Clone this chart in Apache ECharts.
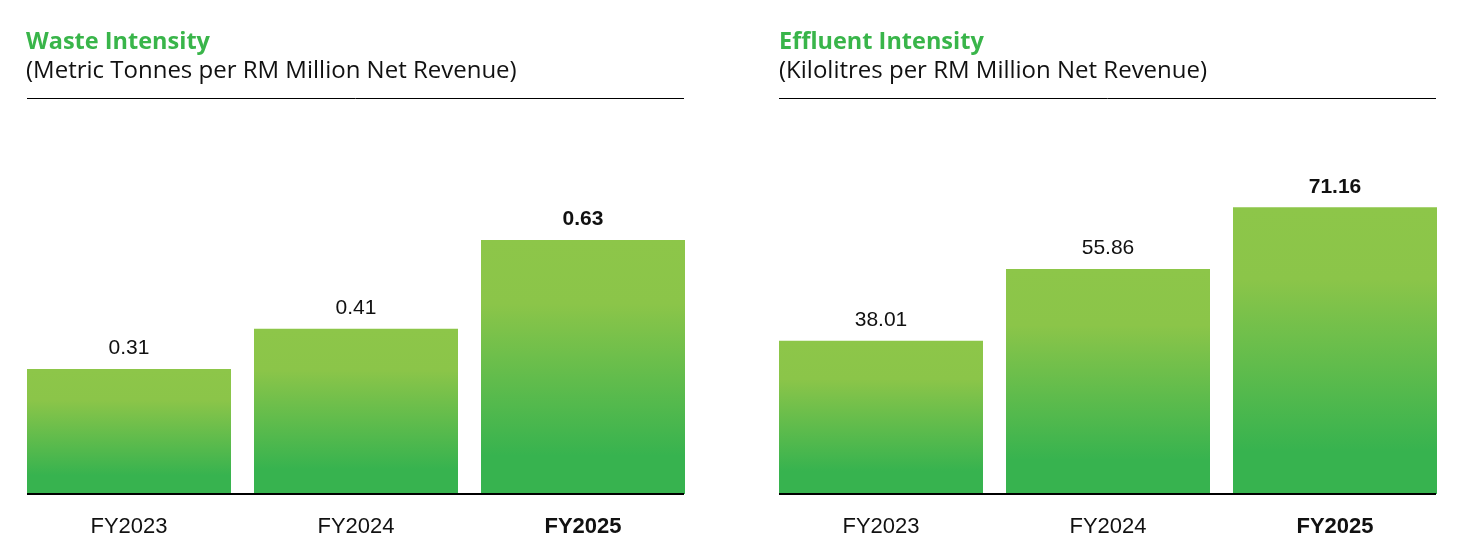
<!DOCTYPE html>
<html>
<head>
<meta charset="utf-8">
<script src="https://cdn.jsdelivr.net/npm/echarts@6/dist/echarts.min.js"></script>
<style>
html,body{margin:0;padding:0;background:#fff;}
#main{width:1466px;height:557px;}
</style>
</head>
<body>
<div id="main"></div>
<script>
// data
var years = ['FY2023', 'FY2024', 'FY2025'];
var wasteValues = [0.31, 0.41, 0.63];
var effluentValues = [38.01, 55.86, 71.16];
var wasteMax = 1;
var effluentMax = 100;

var TFONT = 'Open Sans';
var NFONT = 'Liberation Sans';
var green = '#39B54A';

var barColor = new echarts.graphic.LinearGradient(0, 0, 0, 1, [
	{offset: 0, color: '#8DC649'},
	{offset: 0.25, color: '#8BC549'},
	{offset: 0.85, color: '#37B34F'},
	{offset: 1, color: '#37B34F'}
]);

// last year is shown in bold
function toItems(vals){
	return vals.map(function(v, i){
		var it = {value: v};
		if(i == vals.length - 1) it.label = {fontWeight: 'bold'};
		return it;
	});
}

function xAxisFor(idx){
	return {
		type: 'category', gridIndex: idx, data: years,
		axisLine: {show: false}, axisTick: {show: false},
		axisLabel: {
			margin: 22, fontSize: 22, fontFamily: NFONT, color: '#111',
			formatter: function(v){ return v == years[years.length-1] ? '{b|' + v + '}' : v; },
			rich: {b: {fontWeight: 'bold', fontSize: 22, fontFamily: NFONT, color: '#111'}}
		}
	};
}

function yAxisFor(idx, max){
	return {type: 'value', gridIndex: idx, min: 0, max: max, show: false, splitLine: {show: false}};
}

function seriesFor(idx, vals){
	return {
		type: 'bar', xAxisIndex: idx, yAxisIndex: idx,
		barWidth: 204,
		data: toItems(vals),
		itemStyle: {color: barColor},
		label: {
			show: true, position: 'top', distance: 10,
			fontSize: 21, fontFamily: NFONT, color: '#111',
			formatter: function(p){ return p.value.toFixed(2); }
		}
	};
}

var chart = echarts.init(document.getElementById('main'));
var option = {
	animation: false,
	backgroundColor: '#fff',
	title: [
		{text: 'Waste Intensity', left: 26, top: 30, padding: 0,
			textStyle: {color: green, fontSize: 23.5, fontWeight: 'bold', fontFamily: TFONT}},
		{text: '(Metric Tonnes per RM Million Net Revenue)', left: 26, top: 59, padding: 0,
			textStyle: {color: '#111', fontSize: 24, fontWeight: 'normal', fontFamily: TFONT}},
		{text: 'Effluent Intensity', left: 779, top: 30, padding: 0,
			textStyle: {color: green, fontSize: 23.5, fontWeight: 'bold', fontFamily: TFONT}},
		{text: '(Kilolitres per RM Million Net Revenue)', left: 779, top: 59, padding: 0,
			textStyle: {color: '#111', fontSize: 24, fontWeight: 'normal', fontFamily: TFONT}}
	],
	grid: [
		{left: 15.5, width: 681, top: 91, bottom: 63},
		{left: 767.5, width: 681, top: 91, bottom: 63}
	],
	xAxis: [xAxisFor(0), xAxisFor(1)],
	yAxis: [yAxisFor(0, wasteMax), yAxisFor(1, effluentMax)],
	series: [seriesFor(0, wasteValues), seriesFor(1, effluentValues)],
	graphic: [
		{type: 'line', z: 100, shape: {x1: 27, y1: 98.5, x2: 684, y2: 98.5}, style: {stroke: '#000', lineWidth: 1}},
		{type: 'line', z: 100, shape: {x1: 779, y1: 98.5, x2: 1436, y2: 98.5}, style: {stroke: '#000', lineWidth: 1}},
		{type: 'line', z: 100, shape: {x1: 27, y1: 494, x2: 684, y2: 494}, style: {stroke: '#000', lineWidth: 2}},
		{type: 'line', z: 100, shape: {x1: 779, y1: 494, x2: 1436, y2: 494}, style: {stroke: '#000', lineWidth: 2}}
	]
};
chart.setOption(option);
</script>
</body>
</html>
